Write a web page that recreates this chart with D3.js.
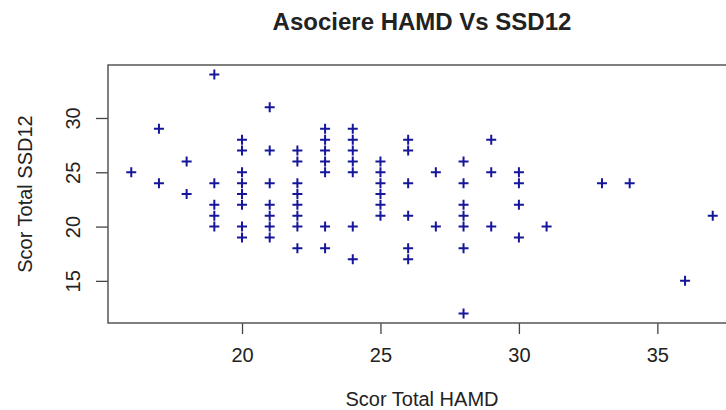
<!DOCTYPE html>
<html>
<head>
<meta charset="utf-8">
<script src="https://cdn.jsdelivr.net/npm/d3@7"></script>
<style>
  body { margin: 0; background: #fff; }
  text { font-family: "Liberation Sans", Arial, Helvetica, sans-serif; fill: #222; }
</style>
</head>
<body>
<div id="chart"></div>
<script>
// HAMD total score (x) and SSD12 total score (y), one entry per subject
const hamd = [
  16,
  17, 17,
  18, 18,
  19, 19, 19, 19, 19,
  20, 20, 20, 20, 20, 20, 20, 20,
  21, 21, 21, 21, 21, 21, 21,
  22, 22, 22, 22, 22, 22, 22, 22,
  23, 23, 23, 23, 23, 23, 23,
  24, 24, 24, 24, 24, 24, 24,
  25, 25, 25, 25, 25, 25,
  26, 26, 26, 26, 26, 26,
  27, 27,
  28, 28, 28, 28, 28, 28, 28,
  29, 29, 29,
  30, 30, 30, 30,
  31, 33, 34, 36, 37
]
const ssd12 = [
  25,
  29, 24,
  26, 23,
  34, 24, 22, 21, 20,
  28, 27, 25, 24, 23, 22, 20, 19,
  31, 27, 24, 22, 21, 20, 19,
  27, 26, 24, 23, 22, 21, 20, 18,
  29, 28, 27, 26, 25, 20, 18,
  29, 28, 27, 26, 25, 20, 17,
  26, 25, 24, 23, 22, 21,
  28, 27, 24, 21, 18, 17,
  25, 20,
  26, 24, 22, 21, 20, 18, 12,
  28, 25, 20,
  25, 24, 22, 19,
  20, 24, 24, 15, 21
]
const xTicks = [20, 25, 30, 35]
const yTicks = [15, 20, 25, 30]

const width = 726, height = 410
const plotL = 108, plotR = 736, plotT = 65, plotB = 323

// R style axis range: data range padded by 4% on each side
const pad = (ext) => { const d = (ext[1] - ext[0]) * 0.04; return [ext[0] - d, ext[1] + d] }

const x = d3.scaleLinear().domain(pad(d3.extent(hamd))).range([plotL, plotR])
const y = d3.scaleLinear().domain(pad(d3.extent(ssd12))).range([plotB, plotT])

const svg = d3.select('#chart')
  .append('svg')
    .attr('width', width)
    .attr('height', height)

const points = hamd.map((h, i) => [h, ssd12[i]])

// x axis
const gx = svg.append('g')
    .attr('transform', `translate(0,${plotB})`)
    .call(d3.axisBottom(x).tickValues(xTicks).tickSize(11).tickPadding(14).tickSizeOuter(0))
gx.select('.domain').remove()
gx.selectAll('line').attr('stroke', '#444').attr('stroke-width', 1.3)
gx.selectAll('text').style('font-size', '20px').attr('fill', '#222')

// y axis, labels turned like R's default
const gy = svg.append('g')
    .attr('transform', `translate(${plotL},0)`)
    .call(d3.axisLeft(y).tickValues(yTicks).tickSize(12).tickSizeOuter(0))
gy.select('.domain').remove()
gy.selectAll('line').attr('stroke', '#444').attr('stroke-width', 1.3)
gy.selectAll('text')
    .style('font-size', '20px')
    .attr('fill', '#222')
    .attr('x', null)
    .attr('dy', null)
    .attr('text-anchor', 'middle')
    .attr('transform', 'translate(-28,0) rotate(-90)')

// box round the plot
svg.append('rect')
    .attr('x', plotL)
    .attr('y', plotT)
    .attr('width', plotR - plotL)
    .attr('height', plotB - plotT)
    .attr('fill', 'none')
    .attr('stroke', '#555')
    .attr('stroke-width', 1.5)

// plus markers
const s = 5
svg.append('g')
  .selectAll('path')
  .data(points)
  .join('path')
    .attr('d', d => {
      const px = x(d[0]), py = y(d[1])
      return `M${px - s},${py}H${px + s}M${px},${py - s}V${py + s}`
    })
    .attr('stroke', '#16169a')
    .attr('stroke-width', 2)
    .attr('fill', 'none')

// titles
svg.append('text')
    .attr('x', (plotL + plotR) / 2)
    .attr('y', 30)
    .attr('text-anchor', 'middle')
    .style('font-size', '24px')
    .style('font-weight', 'bold')
    .attr('fill', '#000')
    .text('Asociere HAMD Vs SSD12')

svg.append('text')
    .attr('x', (plotL + plotR) / 2)
    .attr('y', 406)
    .attr('text-anchor', 'middle')
    .style('font-size', '20px')
    .text('Scor Total HAMD')

svg.append('text')
    .attr('transform', `translate(32,${(plotT + plotB) / 2}) rotate(-90)`)
    .attr('text-anchor', 'middle')
    .style('font-size', '20px')
    .text('Scor Total SSD12')
</script>
</body>
</html>
